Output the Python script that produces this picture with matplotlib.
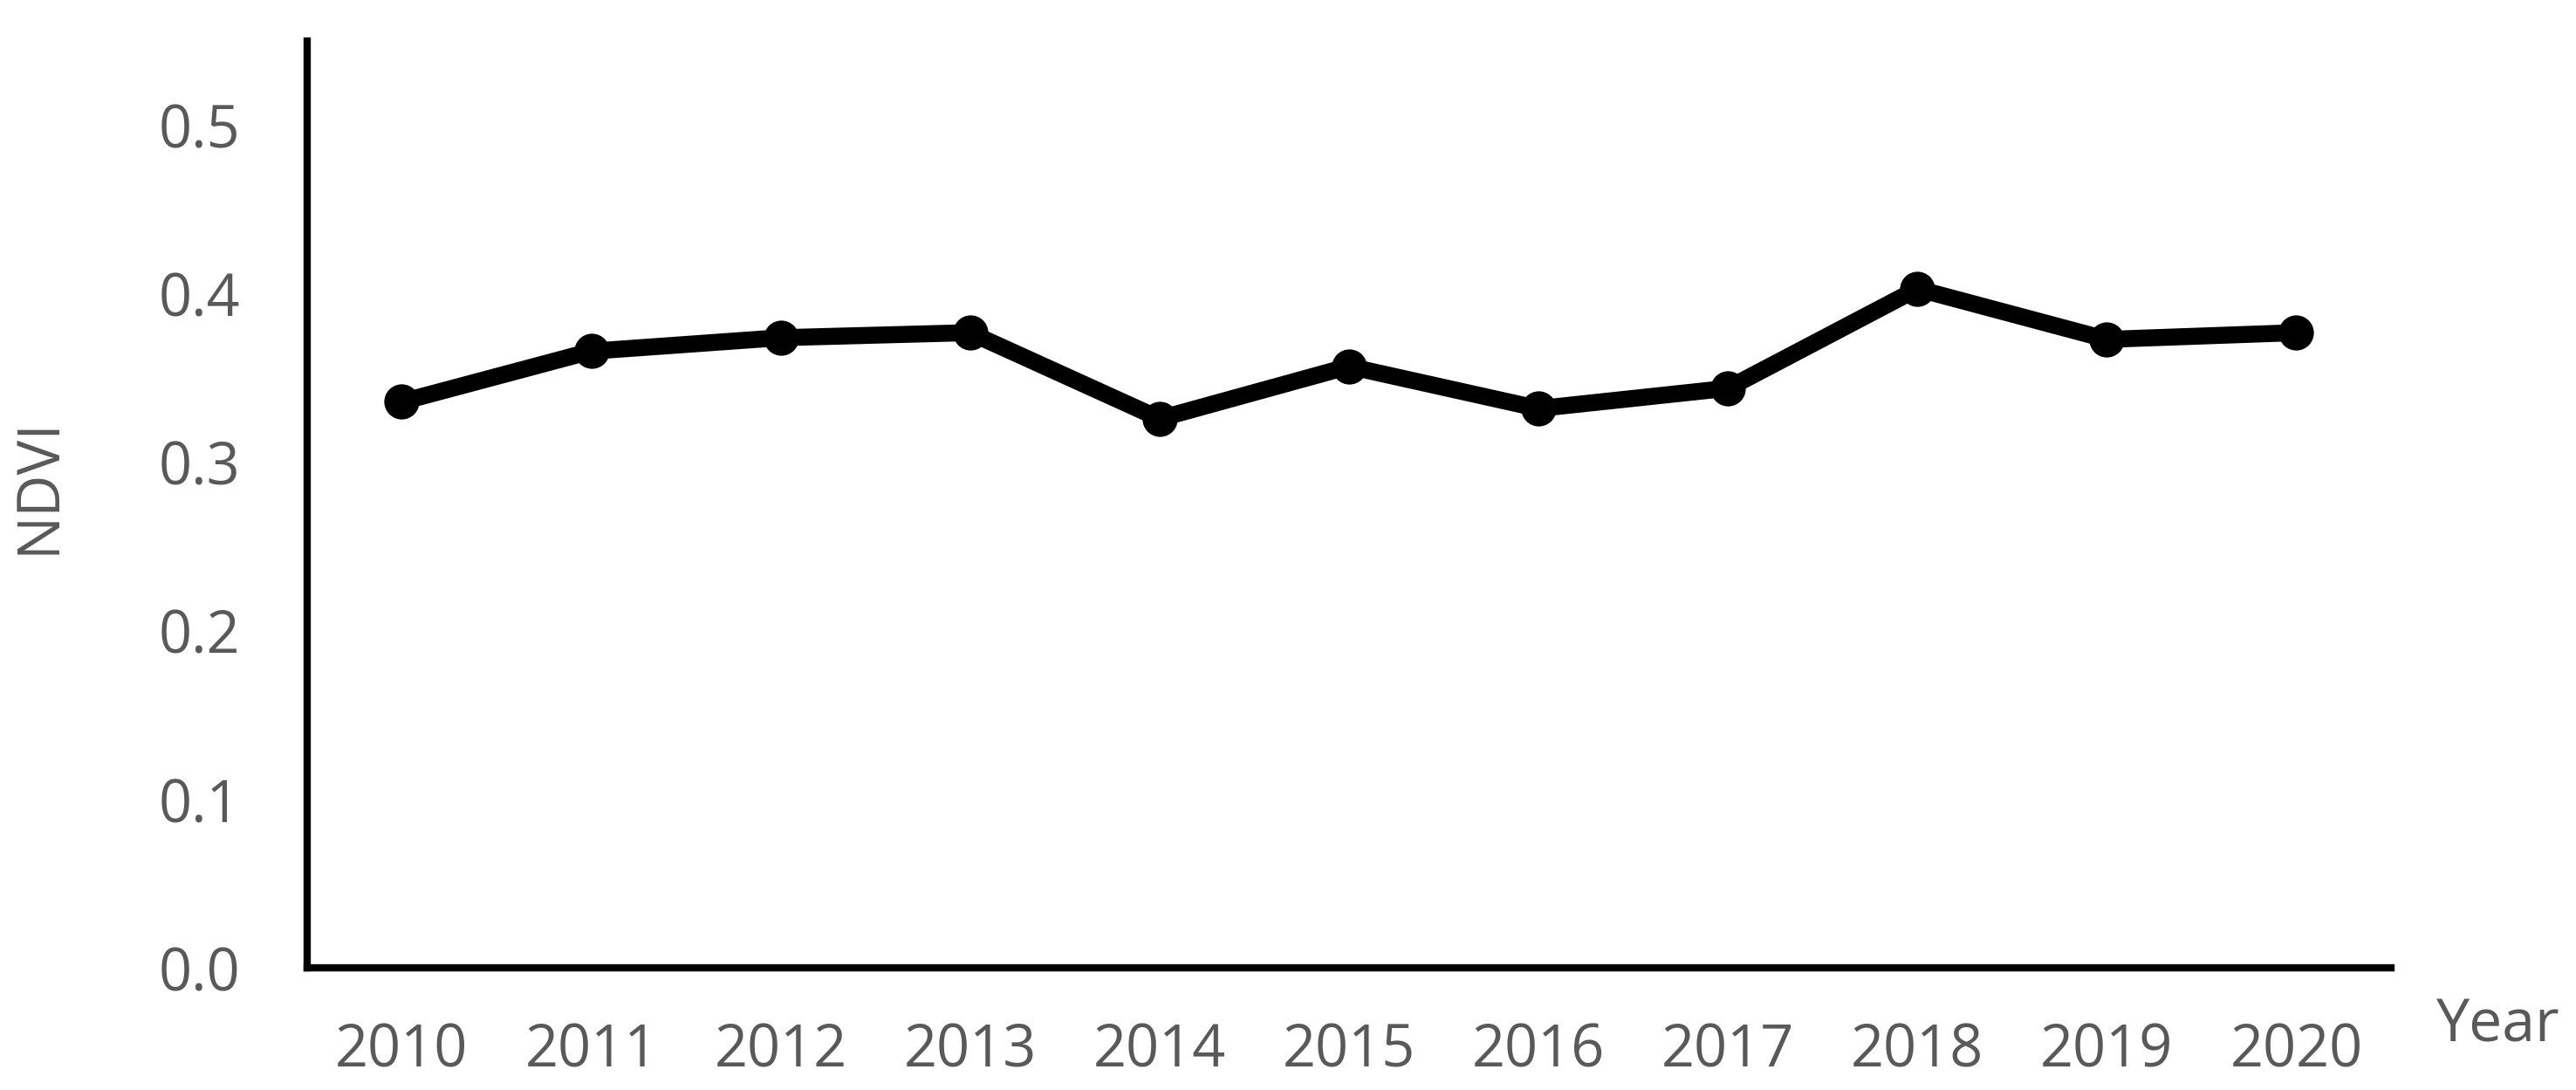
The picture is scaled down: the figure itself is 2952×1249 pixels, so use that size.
import matplotlib
matplotlib.use("Agg")
import matplotlib.pyplot as plt

years = ["2010", "2011", "2012", "2013", "2014", "2015", "2016", "2017", "2018", "2019", "2020"]
ndvi = [0.336, 0.366, 0.374, 0.377, 0.326, 0.357, 0.332, 0.344, 0.403, 0.373, 0.377]
yticks = [0.0, 0.1, 0.2, 0.3, 0.4, 0.5]
ytick_labels = ["0.0", "0.1", "0.2", "0.3", "0.4", "0.5"]

plt.rcParams['font.family'] = ['Open Sans', 'DejaVu Sans']
grey = '#595959'

fig = plt.figure(figsize=(29.52, 12.49), dpi=100)
ax = fig.add_axes([0.1192, 0.1117, 0.9282 - 0.1192, 0.9624 - 0.1117])

x = list(range(len(years)))
ax.plot(x, ndvi, color='black', linewidth=14, marker='o', markersize=29,
        markeredgewidth=0, solid_joinstyle='round', clip_on=False)

ax.set_xlim(-0.5, len(years) - 0.5)
ax.set_ylim(0, 0.55)
ax.set_xticks(x)
ax.set_xticklabels(years)
ax.set_yticks(yticks)
ax.set_yticklabels(ytick_labels)

for s in ['top', 'right']:
    ax.spines[s].set_visible(False)
for s in ['left', 'bottom']:
    ax.spines[s].set_linewidth(6)
    ax.spines[s].set_color('black')
    ax.spines[s].set_capstyle('projecting')

ax.tick_params(axis='both', length=0, labelsize=48, colors=grey)
ax.tick_params(axis='y', pad=55)
ax.tick_params(axis='x', pad=44)

fig.text(45 / 2952, 1 - 557 / 1249, "NDVI", rotation=90, ha='center', va='center',
         fontsize=48, color=grey)
fig.text(2863 / 2952, 1 - 1176 / 1249, "Year", ha='center', va='center',
         fontsize=49, color=grey)

fig.savefig("out.png", dpi=100, facecolor='white')
